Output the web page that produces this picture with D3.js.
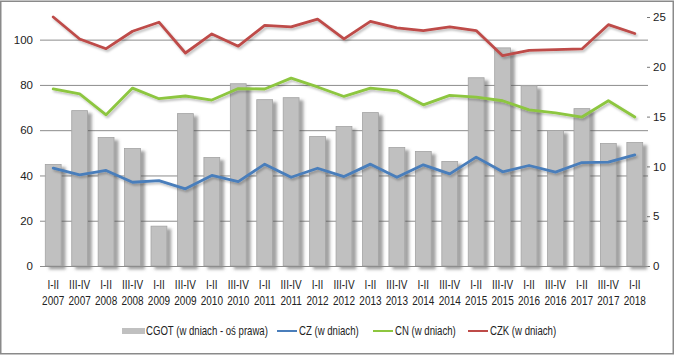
<!DOCTYPE html>
<html><head><meta charset="utf-8">
<script src="https://cdn.jsdelivr.net/npm/d3@7"></script>
<style>
body{margin:0;background:#fff}
svg{display:block}
text{font-family:"Liberation Sans Narrow","Arial Narrow","Liberation Sans",Arial,sans-serif;fill:#222}
</style>
</head><body>
<svg id="c" width="675" height="356"></svg>
<script>
const periods = ["I-II","III-IV","I-II","III-IV","I-II","III-IV","I-II","III-IV","I-II","III-IV","I-II","III-IV","I-II","III-IV","I-II","III-IV","I-II","III-IV","I-II","III-IV","I-II","III-IV","I-II"];
const years = ["2007","2007","2008","2008","2009","2009","2010","2010","2011","2011","2012","2012","2013","2013","2014","2014","2015","2015","2016","2016","2017","2017","2018"];
const cgot = [10.2,15.6,12.9,11.8,4.0,15.3,10.9,18.3,16.7,16.9,13.0,14.0,15.4,11.9,11.5,10.5,18.9,21.9,18.1,13.6,15.8,12.3,12.4];
const cz  = [43.2,40.3,42.2,37.0,37.7,34.1,40.0,37.3,45.0,39.2,43.2,39.5,45.0,39.2,44.7,40.7,48.1,41.6,44.4,41.5,45.7,45.9,49.1];
const cn  = [78.2,76.0,66.8,78.6,73.9,75.1,73.3,78.4,78.2,83.0,79.1,74.9,78.6,77.4,71.2,75.4,74.6,73.0,69.0,67.6,65.8,73.0,65.8];
const czk = [110.0,100.3,96.0,103.7,107.7,94.1,102.5,97.1,106.3,105.6,109.1,100.3,108.1,105.2,104.0,105.6,104.0,92.9,95.3,95.6,95.9,106.6,102.7];
const leftTicks = [0,20,40,60,80,100];
const rightTicks = [0,5,10,15,20,25];
const legendLabels = ["CGOT (w dniach - oś prawa)","CZ (w dniach)","CN (w dniach)","CZK (w dniach)"];

const svg = d3.select("#c");
const L = 40, R = 648, T = 17, B = 266;

const defs = svg.append("defs");
const fb = defs.append("filter").attr("id","barShadow").attr("x","-30%").attr("y","-10%").attr("width","170%").attr("height","130%");
fb.append("feDropShadow").attr("dx",4).attr("dy",3).attr("stdDeviation",1.6).attr("flood-color","#555").attr("flood-opacity",0.55);
const fl = defs.append("filter").attr("id","lineShadow").attr("x","-5%").attr("y","-20%").attr("width","110%").attr("height","140%");
fl.append("feDropShadow").attr("dx",1.5).attr("dy",2).attr("stdDeviation",1.2).attr("flood-color","#000").attr("flood-opacity",0.25);

// outer border
svg.append("rect").attr("x",0.75).attr("y",1.25).attr("width",672.5).attr("height",352.5)
  .attr("fill","#fff").attr("stroke","#8a8a8a").attr("stroke-width",1.5);

const x = d3.scaleBand().domain(d3.range(periods.length)).range([L,R]).padding(0);
const cx = i => x(i) + x.bandwidth()/2;
const yL = d3.scaleLinear().domain([0,110]).range([B,T]);
const yR = d3.scaleLinear().domain([0,25]).range([B,T]);

// gridlines
svg.append("g").selectAll("line").data(leftTicks.filter(d=>d>0)).join("line")
  .attr("x1",L).attr("x2",R).attr("y1",d=>yL(d)+0.5).attr("y2",d=>yL(d)+0.5)
  .attr("stroke","#8c8c8c").attr("stroke-width",1);

// left axis
const ga = svg.append("g").attr("transform",`translate(${L},0)`)
  .call(d3.axisLeft(yL).tickValues(leftTicks).tickSize(0).tickPadding(7));
ga.select(".domain").remove();
ga.selectAll("text").attr("font-size",11.5).attr("fill","#222")
  .attr("font-family","'Liberation Sans Narrow','Arial Narrow',sans-serif");

// right axis
const gr = svg.append("g").attr("transform",`translate(${R-1},0)`)
  .call(d3.axisRight(yR).tickValues(rightTicks).tickSize(3).tickPadding(3));
gr.select(".domain").remove();
gr.selectAll("line").attr("stroke","#777");
gr.selectAll("text").attr("font-size",11.5).attr("fill","#222")
  .attr("font-family","'Liberation Sans Narrow','Arial Narrow',sans-serif");

// bars
const bw = x.bandwidth()*0.6;
svg.append("g").attr("filter","url(#barShadow)").selectAll("rect").data(cgot).join("rect")
  .attr("x",(d,i)=>cx(i)-bw/2).attr("width",bw)
  .attr("y",d=>yR(d)).attr("height",d=>yR(0)-yR(d))
  .attr("fill","#c0c0c0").attr("stroke","#a3a3a3").attr("stroke-width",0.8);

// baseline
svg.append("line").attr("x1",L).attr("x2",R).attr("y1",B+0.5).attr("y2",B+0.5)
  .attr("stroke","#8c8c8c").attr("stroke-width",1);

// x axis labels
const gx = svg.append("g").attr("transform",`translate(0,${B})`)
  .call(d3.axisBottom(x).tickSize(0).tickFormat(()=>""));
gx.select(".domain").remove();
gx.selectAll(".tick text").remove();
gx.selectAll(".tick").each(function(d,i){
  const g = d3.select(this);
  g.append("text").attr("x",0).attr("y",23).attr("text-anchor","middle")
    .attr("font-size",12.5).attr("fill","#222").attr("transform","scale(0.8,1)").text(periods[i]);
  g.append("text").attr("x",0).attr("y",39).attr("text-anchor","middle")
    .attr("font-size",12.5).attr("fill","#222").attr("transform","scale(0.8,1)").text(years[i]);
});

// lines
const series = [
  {vals:czk, color:"#be4b48"},
  {vals:cn,  color:"#8dc63f"},
  {vals:cz,  color:"#4a7ebb"}
];
const lineGen = d3.line().x((d,i)=>cx(i)).y(d=>yL(d));
svg.append("g").attr("filter","url(#lineShadow)").selectAll("path").data(series).join("path")
  .attr("d",s=>lineGen(s.vals)).attr("fill","none").attr("stroke",s=>s.color)
  .attr("stroke-width",2.8).attr("stroke-linejoin","round").attr("stroke-linecap","round");

// legend
const lg = svg.append("g");
const ly = 331;
lg.append("rect").attr("x",122).attr("y",ly-3).attr("width",23).attr("height",6).attr("fill","#c0c0c0");
const legendItems = [
  {label:legendLabels[0], tx:146},
  {label:legendLabels[1], lx:277, color:"#4a7ebb", tx:299},
  {label:legendLabels[2], lx:373, color:"#8dc63f", tx:395},
  {label:legendLabels[3], lx:468, color:"#be4b48", tx:490}
];
const ls = 0.8;
legendItems.forEach(it=>{
  if(it.color){
    lg.append("line").attr("x1",it.lx).attr("x2",it.lx+20).attr("y1",ly).attr("y2",ly)
      .attr("stroke",it.color).attr("stroke-width",2);
  }
  lg.append("text").attr("x",it.tx/ls).attr("y",ly+4.5).attr("font-size",12)
    .attr("transform",`scale(${ls},1)`).attr("fill","#222").text(it.label);
});
</script>
</body></html>
